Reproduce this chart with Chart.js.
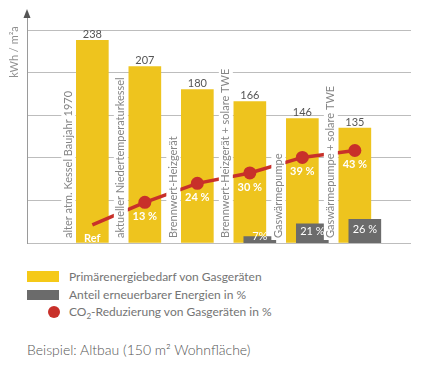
<!DOCTYPE html>
<html>
<head>
<meta charset="utf-8">
<script src="https://cdn.jsdelivr.net/npm/chart.js@4/dist/chart.umd.min.js"></script>
<style>
  html, body { margin:0; padding:0; background:#fff; }
  #wrap { position:relative; width:428px; height:366px; font-family:Lato, "Open Sans", sans-serif; color:#666; }
  #c { position:absolute; left:0; top:0; }
  .lg { position:absolute; left:69px; font-size:12px; line-height:14px; color:#747474; white-space:nowrap; }
  .sw { position:absolute; }
  #caption { position:absolute; left:27px; top:341px; font-size:14px; font-weight:300; line-height:18px; color:#555; white-space:nowrap; }
</style>
</head>
<body>
<div id="wrap">
  <canvas id="c" width="428" height="250"></canvas>
  <div class="sw" style="left:27px;top:271px;width:32px;height:11px;background:#f5c918"></div>
  <div class="lg" style="top:270px">Primärenergiebedarf von Gasgeräten</div>
  <div class="sw" style="left:27px;top:290px;width:32px;height:10px;background:#6b6b6b"></div>
  <div class="lg" style="top:288px">Anteil erneuerbarer Energien in %</div>
  <div class="sw" style="left:48px;top:306px;width:12px;height:12px;border-radius:50%;background:#c8302a"></div>
  <div class="lg" style="top:305px">CO<sub style="font-size:8px;line-height:0">2</sub>-Reduzierung von Gasgeräten in %</div>
  <div id="caption">Beispiel: Altbau (150 m² Wohnfläche)</div>
</div>
<script>
const categories = [
  "alter atm. Kessel Baujahr 1970",
  "aktueller Niedertemperaturkessel",
  "Brennwert-Heizgerät",
  "Brennwert-Heizgerät + solare TWE",
  "Gaswärmepumpe",
  "Gaswärmepumpe + solare TWE"
];
const primaryEnergy = [238, 207, 180, 166, 146, 135];
const renewableShare = [null, null, null, 7, 21, 26];
const renewableLabels = ["", "", "", "7%", "21 %", "26 %"];
const co2Reduction = [0, 13, 24, 30, 39, 43];
const co2Labels = ["Ref", "13 %", "24 %", "30 %", "39 %", "43 %"];
const yTicks = [0, 50, 100, 150, 200, 250];
const yTitle = "kWh / m²a";

const FONT = 'Lato, "Open Sans", sans-serif';
const GRAY_OFFSET = 0.19;

const decor = {
  id: 'decor',
  afterDatasetsDraw(chart) {
    const ctx = chart.ctx;
    const xs = chart.scales.x, y = chart.scales.y, yc = chart.scales.yCo2, ys = chart.scales.yShare;
    const area = chart.chartArea;
    ctx.save();
    // category labels (rotated) with white background
    ctx.font = '11px ' + FONT;
    categories.forEach((lab, i) => {
      const cx = xs.getPixelForValue(i) - 24;
      const w = ctx.measureText(lab).width;
      ctx.save();
      ctx.translate(cx, area.bottom - 5);
      ctx.rotate(-Math.PI / 2);
      ctx.fillStyle = '#fff';
      ctx.fillRect(-2, -7, w + 4, 14);
      ctx.fillStyle = '#858585';
      ctx.textAlign = 'left';
      ctx.textBaseline = 'middle';
      ctx.fillText(lab, 0, 0);
      ctx.restore();
    });
    // value labels above bars
    ctx.font = '11px ' + FONT;
    ctx.fillStyle = '#555';
    ctx.textAlign = 'center';
    ctx.textBaseline = 'middle';
    primaryEnergy.forEach((v, i) => {
      ctx.fillText(String(v), xs.getPixelForValue(i), y.getPixelForValue(v) - 6);
    });
    // CO2 labels
    ctx.font = 'bold 11px ' + FONT;
    ctx.fillStyle = '#fff';
    co2Reduction.forEach((v, i) => {
      ctx.fillText(co2Labels[i], xs.getPixelForValue(i), yc.getPixelForValue(v) + 14);
    });
    // renewable labels
    ctx.font = '11px ' + FONT;
    renewableShare.forEach((v, i) => {
      if (v == null) return;
      const top = ys.getPixelForValue(v);
      const yy = Math.min((top + area.bottom) / 2 - 2, area.bottom - 7);
      ctx.fillText(renewableLabels[i], xs.getPixelForValue(i + GRAY_OFFSET), yy);
    });
    ctx.restore();
  },
  afterDraw(chart) {
    const ctx = chart.ctx;
    const area = chart.chartArea;
    ctx.save();
    // arrow
    ctx.fillStyle = '#555';
    ctx.beginPath();
    ctx.moveTo(area.left, 9);
    ctx.lineTo(area.left + 3.5, 18);
    ctx.lineTo(area.left - 3.5, 18);
    ctx.closePath();
    ctx.fill();
    // y title
    ctx.font = '11px ' + FONT;
    ctx.fillStyle = '#909090';
    ctx.translate(14, 52);
    ctx.rotate(-Math.PI / 2);
    ctx.textAlign = 'center';
    ctx.textBaseline = 'middle';
    ctx.fillText(yTitle, 0, 0);
    ctx.restore();
  }
};

new Chart(document.getElementById('c'), {
  type: 'bar',
  data: {
    datasets: [
      {
        type: 'line',
        label: 'CO₂-Reduzierung von Gasgeräten in %',
        data: co2Reduction.map((v, i) => ({ x: i, y: v })),
        yAxisID: 'yCo2',
        borderColor: '#c8302a',
        backgroundColor: '#c8302a',
        borderWidth: 3.5,
        pointRadius: co2Reduction.map((v, i) => i === 0 ? 0 : 6.5),
        pointBorderWidth: 0,
        order: 0
      },
      {
        label: 'Anteil erneuerbarer Energien in %',
        data: renewableShare.map((v, i) => ({ x: i + GRAY_OFFSET, y: v })),
        yAxisID: 'yShare',
        backgroundColor: '#6b6b6b',
        barThickness: 32,
        grouped: false,
        order: 1
      },
      {
        label: 'Primärenergiebedarf von Gasgeräten',
        data: primaryEnergy.map((v, i) => ({ x: i, y: v })),
        yAxisID: 'y',
        backgroundColor: '#eec41e',
        barThickness: 32,
        grouped: false,
        order: 2
      }
    ]
  },
  options: {
    responsive: false,
    animation: false,
    layout: { padding: { left: 27, right: 17, top: 13, bottom: 7 } },
    plugins: { legend: { display: false }, tooltip: { enabled: false } },
    scales: {
      x: { type: 'linear', min: -0.635, max: 5.46, display: false },
      y: {
        min: 0, max: 270,
        ticks: { display: false, stepSize: 50 },
        afterBuildTicks: s => { s.ticks = yTicks.map(v => ({ value: v })); },
        grid: { color: '#bdbdbd', drawTicks: false, lineWidth: 1 },
        border: { color: '#9a9a9a', width: 1 }
      },
      yShare: { display: false, min: 0, max: 252 },
      yCo2: { display: false, min: -10.5, max: 122.5 }
    }
  },
  plugins: [decor]
});
</script>
</body>
</html>
